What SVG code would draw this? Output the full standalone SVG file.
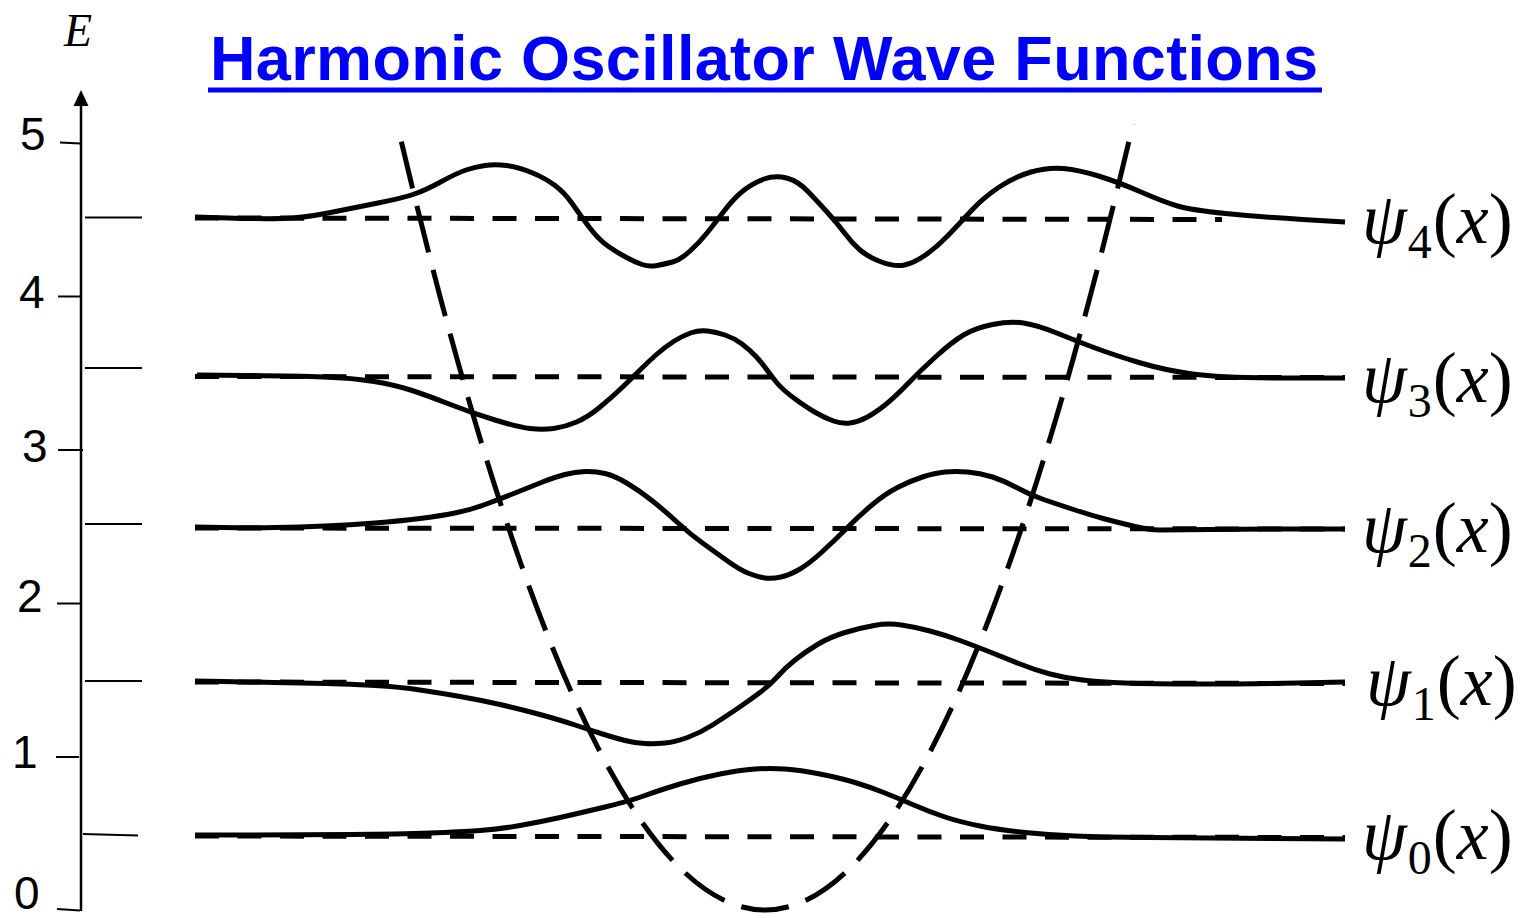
<svg xmlns="http://www.w3.org/2000/svg" width="1526" height="918" viewBox="0 0 1526 918">
<style>
.num{font-family:"Liberation Sans",Arial,sans-serif;font-size:46px;fill:#000}
.lbl{font-family:"Liberation Serif","Times New Roman",serif;font-size:72px;fill:#000}
.sub{font-size:48px}
.it{font-style:italic}
.tick{stroke:#000;stroke-width:2;fill:none}
.level{stroke:#000;stroke-width:5;stroke-dasharray:24 18.5;fill:none}
.wave{stroke:#000;stroke-width:5;fill:none;stroke-linejoin:round;stroke-linecap:butt}
.pot{stroke:#000;stroke-width:5;fill:none;stroke-dasharray:48 18;stroke-dashoffset:24}
</style>
<rect width="1526" height="918" fill="#fff"/>
<g id="title">
<text x="210" y="80" font-family="'Liberation Sans',Arial,sans-serif" font-weight="bold" font-size="63" fill="#0000ff" textLength="1108" lengthAdjust="spacing">Harmonic Oscillator Wave Functions</text>
<rect x="208" y="87.5" width="1114" height="5" fill="#0000ff"/>
</g>
<g id="axis">
<line x1="81" y1="911" x2="81" y2="104" stroke="#000" stroke-width="2.5"/>
<polygon points="81,90 73.5,106 88.5,106" fill="#000"/>
<text x="64" y="46" font-family="'Liberation Serif','Times New Roman',serif" font-style="italic" font-size="46">E</text>
<line class="tick" x1="60" y1="142.5" x2="80" y2="143.5"/>
<line class="tick" x1="58" y1="296.5" x2="80" y2="296.5"/>
<line class="tick" x1="58" y1="450" x2="83" y2="450"/>
<line class="tick" x1="57" y1="603.5" x2="80" y2="603.5"/>
<line class="tick" x1="56" y1="757" x2="79" y2="757"/>
<line class="tick" x1="57" y1="909" x2="80" y2="910.5"/>
<line class="tick" x1="85" y1="217.5" x2="142" y2="217.5"/>
<line class="tick" x1="85" y1="368" x2="142" y2="368"/>
<line class="tick" x1="85" y1="524" x2="142" y2="524"/>
<line class="tick" x1="85" y1="681" x2="142" y2="681"/>
<line class="tick" x1="83" y1="834" x2="138" y2="835.5"/>
<text class="num" x="20" y="150">5</text>
<text class="num" x="19" y="308">4</text>
<text class="num" x="22" y="462">3</text>
<text class="num" x="17" y="612">2</text>
<text class="num" x="12" y="768">1</text>
<text class="num" x="14" y="909">0</text>
</g>
<g id="connectors">
<g id="levels">
<line class="level" x1="195" y1="218" x2="1222" y2="219.5"/>
<line class="level" x1="195" y1="376.5" x2="1345" y2="377.5"/>
<line class="level" x1="195" y1="528" x2="1345" y2="529"/>
<line class="level" x1="195" y1="682" x2="1345" y2="683.5"/>
<line class="level" x1="195" y1="836" x2="1345" y2="837.5"/>
</g>
<g id="potential">
<path class="pot" d="M765,910 Q582.5,910 400,136"/>
<path class="pot" d="M765,910 Q949,910 1133,124"/>
</g>
</g>
<g id="psi4">
<path class="wave" d="M195,217 L228,218 Q261,219 282,218.5 Q303,218 328,213 Q353,208 378,203 Q403,198 414.5,194 Q426,190 441.5,181.5 Q457,173 466,170 Q475,167 485,165.5 Q495,164 506.5,165.5 Q518,167 531.5,172.5 Q545,178 555,185.5 Q565,193 572.5,204 Q580,215 589.5,227.5 Q599,240 608.5,246.5 Q618,253 626.5,257.5 Q635,262 642,264.5 Q649,267 657,265.5 Q665,264 672.5,262 Q680,260 689.5,251.5 Q699,243 707,233 Q715,223 724.5,210.5 Q734,198 743.5,190.5 Q753,183 764,179 Q775,175 786.5,178 Q798,181 808,191.5 Q818,202 827.5,212.5 Q837,223 844.5,233 Q852,243 860,250 Q868,257 881.5,262 Q895,267 904.5,265 Q914,263 925.5,255 Q937,247 948.5,235 Q960,223 971.5,210.5 Q983,198 998.5,187.5 Q1014,177 1031,172 Q1048,167 1063.5,168.5 Q1079,170 1098.5,176 Q1118,182 1141,192 Q1164,202 1177.5,206 Q1191,210 1225.5,213.5 Q1260,217 1302.5,219.5 L1345,222"/>
<text class="lbl" x="1362" y="243"><tspan class="it">ψ</tspan><tspan class="sub" dx="1" dy="15">4</tspan><tspan dx="1" dy="-15">(</tspan><tspan class="it">x</tspan>)</text>
</g>
<g id="psi3">
<path class="wave" d="M197,375 L246,375.5 Q295,376 324,377 Q353,378 374,381.5 Q395,385 410.5,390 Q426,395 449,404 Q472,413 495,420 Q518,427 530,428.5 Q542,430 553.5,428.5 Q565,427 576.5,422 Q588,417 599.5,407.5 Q611,398 620.5,389 Q630,380 639,371 Q648,362 656.5,354.5 Q665,347 673.5,341.5 Q682,336 690.5,333 Q699,330 707.5,331 Q716,332 725,335 Q734,338 742,344 Q750,350 756,356.5 Q762,363 767,370 Q772,377 777.5,383.5 Q783,390 794.5,398.5 Q806,407 815.5,412.5 Q825,418 833.5,421 Q842,424 850,423 Q858,422 866.5,417.5 Q875,413 885,405 Q895,397 908,383.5 Q921,370 936.5,356 Q952,342 963.5,335 Q975,328 992.5,324.5 Q1010,321 1023.5,323 Q1037,325 1058,333.5 Q1079,342 1096.5,348.5 Q1114,355 1139,362.5 Q1164,370 1192.5,374 Q1221,378 1283,378 L1345,378"/>
<text class="lbl" x="1362" y="402"><tspan class="it">ψ</tspan><tspan class="sub" dx="1" dy="15">3</tspan><tspan dx="1" dy="-15">(</tspan><tspan class="it">x</tspan>)</text>
</g>
<g id="psi2">
<path class="wave" d="M195,527 L222.5,527.5 Q250,528 275,527.5 Q300,527 325,526 Q350,525 375,523 Q400,521 420,518.5 Q440,516 455,513 Q470,510 485,504.5 Q500,499 515,493 Q530,487 542.5,482 Q555,477 565,474.5 Q575,472 585,471.5 Q595,471 605,473.5 Q615,476 627.5,483.5 Q640,491 652.5,501 Q665,511 677.5,522.5 Q690,534 702.5,543 Q715,552 727.5,561 Q740,570 749,573.5 Q758,577 765,578 Q772,579 781,577 Q790,575 800,569 Q810,563 822.5,551.5 Q835,540 847.5,527.5 Q860,515 872.5,504.5 Q885,494 897.5,487.5 Q910,481 922.5,477 Q935,473 945,472 Q955,471 967.5,472 Q980,473 992.5,477 Q1005,481 1017.5,488 Q1030,495 1045,500 Q1060,505 1075,510 Q1090,515 1105,519 Q1120,523 1135,526.5 Q1150,530 1160,530 Q1170,530 1210,529.5 Q1250,529 1297.5,529 L1345,529"/>
<text class="lbl" x="1362" y="552"><tspan class="it">ψ</tspan><tspan class="sub" dx="1" dy="15">2</tspan><tspan dx="1" dy="-15">(</tspan><tspan class="it">x</tspan>)</text>
</g>
<g id="psi1">
<path class="wave" d="M195,681 L222.5,681.5 Q250,682 275,682.5 Q300,683 325,683.5 Q350,684 375,685.5 Q400,687 420,690 Q440,693 460,696.5 Q480,700 500,704.5 Q520,709 540,714.5 Q560,720 575,725 Q590,730 602.5,734 Q615,738 625,740.5 Q635,743 645,743.5 Q655,744 665,743 Q675,742 687.5,737.5 Q700,733 712.5,725 Q725,717 737.5,708.5 Q750,700 760,692.5 Q770,685 777.5,676.5 Q785,668 795,660 Q805,652 817.5,644.5 Q830,637 845,632.5 Q860,628 874,625.5 Q888,623 901.5,625 Q915,627 930,631 Q945,635 960,640.5 Q975,646 990,652 Q1005,658 1020,664 Q1035,670 1050,674 Q1065,678 1082.5,680 Q1100,682 1125,683 Q1150,684 1200,684 Q1250,684 1297.5,683 L1345,682"/>
<text class="lbl" x="1366" y="705"><tspan class="it">ψ</tspan><tspan class="sub" dx="1" dy="15">1</tspan><tspan dx="1" dy="-15">(</tspan><tspan class="it">x</tspan>)</text>
</g>
<g id="psi0">
<path class="wave" d="M195,835 L247.5,835 Q300,835 350,834.5 Q400,834 430,833 Q460,832 480,830.5 Q500,829 520,825.5 Q540,822 560,817.5 Q580,813 605,807 Q630,801 645,795.5 Q660,790 680,784 Q700,778 720,774 Q740,770 755,769 Q770,768 785,769 Q800,770 820,774 Q840,778 855,782.5 Q870,787 885,793 Q900,799 915,805.5 Q930,812 945,817 Q960,822 980,826 Q1000,830 1025,832.5 Q1050,835 1075,836 Q1100,837 1150,837.5 Q1200,838 1272.5,838.5 L1345,839"/>
<text class="lbl" x="1362" y="859"><tspan class="it">ψ</tspan><tspan class="sub" dx="1" dy="15">0</tspan><tspan dx="1" dy="-15">(</tspan><tspan class="it">x</tspan>)</text>
</g>
</svg>
